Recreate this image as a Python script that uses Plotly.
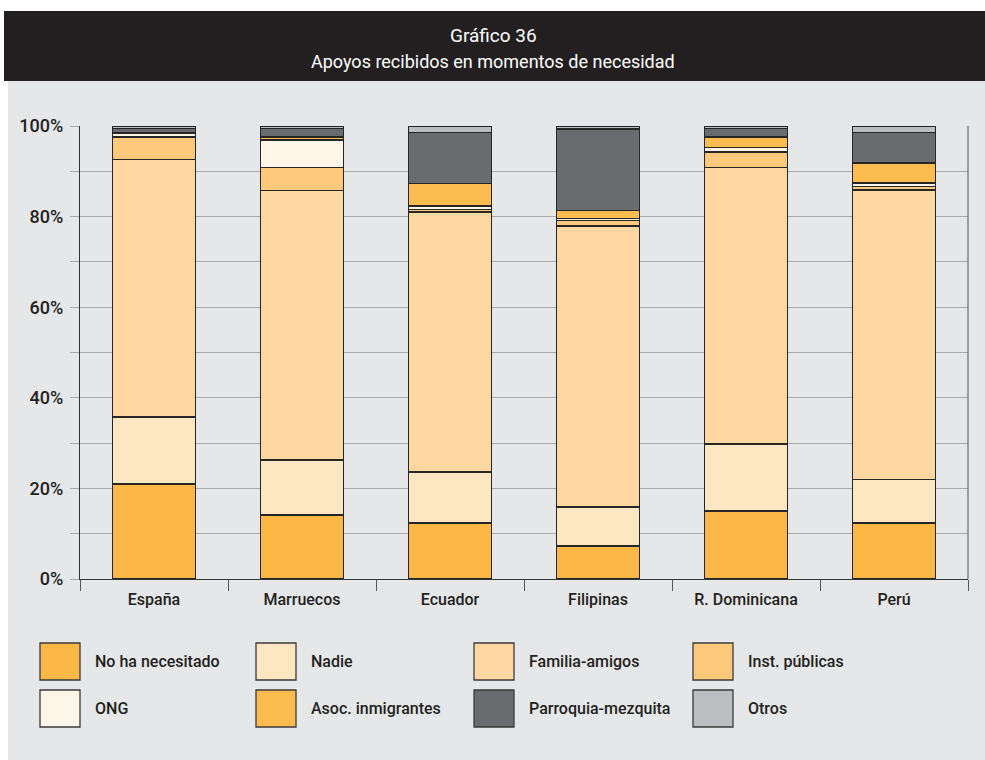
import plotly.graph_objects as go

# Support received in moments of need, share of respondents by country of origin (%)
countries = ["España", "Marruecos", "Ecuador", "Filipinas", "R. Dominicana", "Perú"]

no_ha_necesitado = [21.0, 14.1, 12.4, 7.3, 15.0, 12.4]
nadie = [14.8, 12.2, 11.2, 8.6, 14.8, 9.5]
familia_amigos = [56.8, 59.4, 57.4, 62.0, 61.1, 64.0]
inst_publicas = [5.0, 5.2, 0.6, 1.3, 3.4, 0.7]
ong = [0.7, 6.0, 0.7, 0.4, 0.9, 0.8]
asoc_inmigrantes = [0.3, 0.7, 5.0, 1.7, 2.4, 4.4]
parroquia_mezquita = [0.9, 1.9, 11.2, 18.0, 1.8, 6.8]
otros = [0.5, 0.5, 1.5, 0.7, 0.6, 1.4]

series_names = ["No ha necesitado", "Nadie", "Familia-amigos", "Inst. públicas",
                "ONG", "Asoc. inmigrantes", "Parroquia-mezquita", "Otros"]
series_values = [no_ha_necesitado, nadie, familia_amigos, inst_publicas,
                 ong, asoc_inmigrantes, parroquia_mezquita, otros]
series_colors = ["#fbb847", "#fde6c2", "#fed8a0", "#fec97a",
                 "#fff5e8", "#fdbc50", "#6a6b6e", "#bcbdc0"]

y_ticks = [0, 20, 40, 60, 80, 100]
y_tick_labels = ["0%", "20%", "40%", "60%", "80%", "100%"]

FONT = "Roboto, Liberation Sans, sans-serif"
INK = "#231f20"
W, H = 985, 760
ML, MR, MT, MB = 80, 17, 126, 181
PW, PH = W - ML - MR, H - MT - MB


def px(x):
    return (x - ML) / PW


def py(y):
    return (H - MB - y) / PH


fig = go.Figure()
for name, vals, col in zip(series_names, series_values, series_colors):
    fig.add_trace(go.Bar(
        x=countries, y=vals, name=name, width=0.56,
        marker=dict(color=col, line=dict(color="#262626", width=1.4)),
        showlegend=False,
        hovertemplate="%{x}: %{y:.1f}%<extra>" + name + "</extra>",
    ))

shapes = [
    # grey panel and black heading band
    dict(type="rect", xref="paper", yref="paper", x0=px(8), x1=px(W), y0=py(H), y1=py(81),
         fillcolor="#e6e7e9", line=dict(width=0), layer="below"),
    dict(type="rect", xref="paper", yref="paper", x0=px(4), x1=px(W), y0=py(81), y1=py(11),
         fillcolor="#231f20", line=dict(width=0), layer="below"),
    # right frame line
    dict(type="line", xref="paper", yref="paper", x0=1, x1=1, y0=0, y1=1,
         line=dict(color="#555555", width=1)),
]

annotations = [
    dict(text="Gráfico 36", xref="paper", yref="paper", x=px(493), y=py(35),
         showarrow=False, font=dict(family=FONT, size=19, color="white"),
         xanchor="center", yanchor="middle"),
    dict(text="Apoyos recibidos en momentos de necesidad", xref="paper", yref="paper",
         x=px(493), y=py(62), showarrow=False,
         font=dict(family=FONT, size=18, color="white"),
         xanchor="center", yanchor="middle"),
]

# hand-built legend: 4 columns x 2 rows of large swatches
col_x = [40, 256, 474, 693]
row_y = [643, 690]
sw_w, sw_h = 40, 37
for i, (name, col) in enumerate(zip(series_names, series_colors)):
    r, c = divmod(i, 4)
    x0, y0 = col_x[c], row_y[r]
    shapes.append(dict(type="rect", xref="paper", yref="paper",
                       x0=px(x0), x1=px(x0 + sw_w), y0=py(y0 + sw_h), y1=py(y0),
                       fillcolor=col, line=dict(color="#3a3a3a", width=1.3)))
    annotations.append(dict(text=name, xref="paper", yref="paper",
                            x=px(x0 + sw_w + 13), y=py(y0 + sw_h / 2), showarrow=False,
                            xanchor="left", yanchor="middle",
                            font=dict(family=FONT, size=16, color=INK, weight=500)))

fig.update_layout(
    width=W, height=H,
    margin=dict(l=ML, r=MR, t=MT, b=MB, pad=0),
    paper_bgcolor="white", plot_bgcolor="rgba(0,0,0,0)",
    barmode="stack", bargap=0.44,
    shapes=shapes, annotations=annotations,
    font=dict(family=FONT, color=INK),
    xaxis=dict(
        showline=True, linecolor="#333333", linewidth=1.2,
        ticks="outside", tickson="boundaries", ticklen=11, tickcolor="#555555",
        tickfont=dict(family=FONT, size=16, color=INK, weight=500),
        ticklabelstandoff=6,
        showgrid=False, fixedrange=True,
    ),
    yaxis=dict(
        range=[0, 100], tickvals=y_ticks, ticktext=y_tick_labels,
        showline=True, linecolor="#333333", linewidth=1.2,
        ticks="outside", ticklen=9, tickcolor="#a8a9ac",
        tickfont=dict(family=FONT, size=18, color=INK, weight=500),
        showgrid=True, gridcolor="#a8a9ac", gridwidth=1,
        minor=dict(dtick=10, tick0=0, ticks="outside", ticklen=9, tickcolor="#a8a9ac",
                   showgrid=True, gridcolor="#a8a9ac", gridwidth=1),
        zeroline=False, fixedrange=True, ticklabelstandoff=3,
    ),
)

fig.write_html("out.html")
